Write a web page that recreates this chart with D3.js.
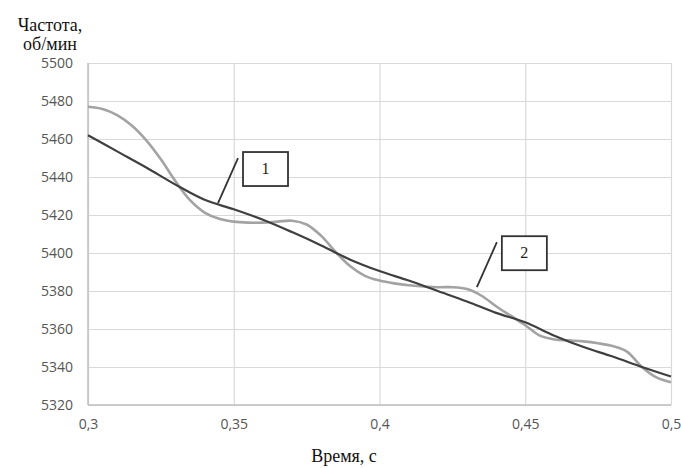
<!DOCTYPE html>
<html>
<head>
<meta charset="utf-8">
<script src="https://cdn.jsdelivr.net/npm/d3@7"></script>
<style>
  html, body { margin: 0; padding: 0; background: #fff; }
  svg { display: block; }
  .tick text { font-family: "Open Sans", sans-serif; font-size: 14px; fill: #555; }
  .title { font-family: "Liberation Serif", "Times New Roman", serif; font-size: 18px; fill: #111; }
</style>
</head>
<body>
<div id="chart"></div>
<script>
// -----------------------
// Data
// -----------------------
const xTicks = [0.3, 0.35, 0.4, 0.45, 0.5];
const xTickLabels = ["0,3", "0,35", "0,4", "0,45", "0,5"];
const yTicks = [5320, 5340, 5360, 5380, 5400, 5420, 5440, 5460, 5480, 5500];

// curve 1 (dark)
const time1 = [0.30, 0.31, 0.32, 0.33, 0.34, 0.35, 0.36, 0.37, 0.38, 0.39, 0.40,
               0.41, 0.42, 0.43, 0.44, 0.45, 0.46, 0.47, 0.48, 0.49, 0.50];
const freq1 = [5462, 5453.5, 5445, 5436, 5428, 5423, 5417.5, 5411, 5404, 5396.5, 5390.5,
               5385.5, 5380, 5374.5, 5368.5, 5363.5, 5356.5, 5350.5, 5345.5, 5340, 5335];

// curve 2 (light gray)
const time2 = [0.300, 0.305, 0.310, 0.315, 0.320, 0.325, 0.330, 0.335, 0.340, 0.345,
               0.350, 0.355, 0.360, 0.365, 0.370, 0.375, 0.380, 0.385, 0.390, 0.395,
               0.400, 0.405, 0.410, 0.420, 0.425, 0.430, 0.435, 0.440, 0.445, 0.450,
               0.455, 0.460, 0.465, 0.470, 0.475, 0.480, 0.485, 0.490, 0.495, 0.500];
const freq2 = [5477, 5475.8, 5472.6, 5467.1, 5459.3, 5449.3, 5437.8, 5427.8, 5421.3, 5418,
               5416.5, 5416, 5416, 5416.5, 5417, 5415, 5409, 5400.5, 5393, 5388,
               5385.5, 5384, 5383, 5382, 5382, 5381, 5377.5, 5372, 5367, 5362,
               5356.5, 5354.5, 5354, 5353.5, 5352.5, 5351, 5348, 5340, 5334.5, 5332];

// callouts: label, anchor point on the curve (data coords)
const calloutLabels = ["1", "2"];
const calloutTime = [0.3446, 0.4334];
const calloutFreq = [5426.3, 5382];

// -----------------------
// Chart
// -----------------------
const svgWidth = 681;
const svgHeight = 468;
const margin = { top: 63, right: 10, bottom: 63, left: 88 };
const chartWidth = 671 - margin.left;
const chartHeight = 405 - margin.top;

const svg = d3.select("#chart")
  .append("svg")
  .attr("width", svgWidth)
  .attr("height", svgHeight);

const g = svg.append("g")
  .attr("transform", `translate(${margin.left},${margin.top})`);

const x = d3.scaleLinear().domain([0.3, 0.5]).range([0, chartWidth]);
const y = d3.scaleLinear().domain([5320, 5500]).range([chartHeight, 0]);

// Gridlines + y axis
const yAxis = g.append("g")
  .call(d3.axisLeft(y).tickValues(yTicks).tickSize(-chartWidth).tickPadding(15).tickFormat(d3.format("d")));
yAxis.select(".domain").remove();
yAxis.selectAll(".tick line").attr("stroke", "#d9d9d9").attr("stroke-width", 1.2);

// Vertical gridlines + x axis
const xAxis = g.append("g")
  .attr("transform", `translate(0,${chartHeight})`)
  .call(d3.axisBottom(x).tickValues(xTicks).tickSize(-chartHeight).tickPadding(14)
    .tickFormat((d, i) => xTickLabels[i]));
xAxis.select(".domain").remove();
xAxis.selectAll(".tick line").attr("stroke", "#d9d9d9").attr("stroke-width", 1.2);

// axis lines
g.append("line")
  .attr("x1", 0).attr("x2", 0).attr("y1", 0).attr("y2", chartHeight)
  .attr("stroke", "#bfbfbf").attr("stroke-width", 1.5);
g.append("line")
  .attr("x1", 0).attr("x2", chartWidth).attr("y1", chartHeight).attr("y2", chartHeight)
  .attr("stroke", "#bfbfbf").attr("stroke-width", 1.5);

// Curves
const line = d3.line()
  .x(d => x(d[0]))
  .y(d => y(d[1]))
  .curve(d3.curveCatmullRom.alpha(0.5));

g.append("path")
  .datum(time2.map((t, i) => [t, freq2[i]]))
  .attr("fill", "none")
  .attr("stroke", "#a3a3a3")
  .attr("stroke-width", 2.6)
  .attr("d", line);

g.append("path")
  .datum(time1.map((t, i) => [t, freq1[i]]))
  .attr("fill", "none")
  .attr("stroke", "#3f3f3f")
  .attr("stroke-width", 2.2)
  .attr("d", line);

// Callouts
calloutLabels.forEach((lab, i) => {
  const ax = x(calloutTime[i]);
  const ay = y(calloutFreq[i]);
  const tx = ax + 20, ty = ay - 45; // leader end
  g.append("line")
    .attr("x1", ax).attr("y1", ay).attr("x2", tx).attr("y2", ty)
    .attr("stroke", "#333").attr("stroke-width", 1.8);
  g.append("rect")
    .attr("x", tx + 5).attr("y", ty - 6)
    .attr("width", 45).attr("height", 34)
    .attr("fill", "#fff").attr("stroke", "#333").attr("stroke-width", 1.8);
  g.append("text")
    .attr("x", tx + 27.5).attr("y", ty + 16)
    .attr("text-anchor", "middle")
    .attr("font-family", "Liberation Serif, serif")
    .attr("font-size", 16)
    .attr("fill", "#222")
    .text(lab);
});

// Axis titles
svg.append("text").attr("class", "title")
  .attr("x", 50).attr("y", 31).attr("text-anchor", "middle").text("Частота,");
svg.append("text").attr("class", "title")
  .attr("x", 50).attr("y", 50).attr("text-anchor", "middle").text("об/мин");
svg.append("text").attr("class", "title")
  .attr("x", 344).attr("y", 462).attr("text-anchor", "middle").text("Время, с");
</script>
</body>
</html>
